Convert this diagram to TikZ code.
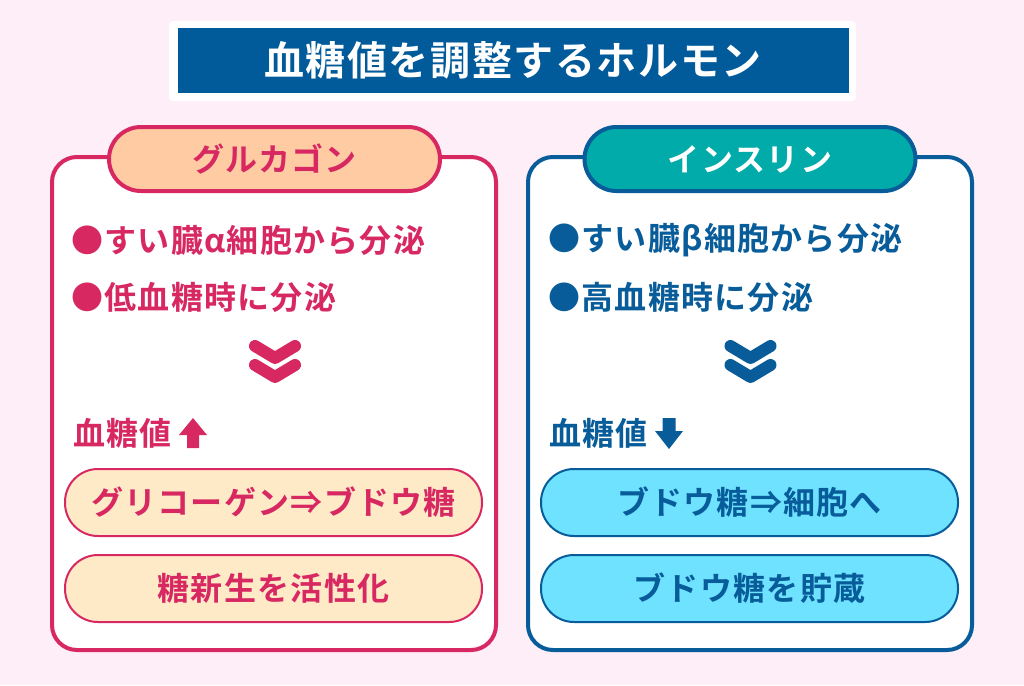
\documentclass[tikz,border=0pt]{standalone}
\usepackage{fontspec}
\setmainfont{Noto Sans CJK JP}[BoldFont={Noto Sans CJK JP Bold}, LetterSpace=4]
\definecolor{bgpink}{HTML}{FDEEF8}
\definecolor{titleblue}{HTML}{015A99}
\definecolor{crim}{HTML}{D72862}
\definecolor{peach}{HTML}{FFCBA3}
\definecolor{cream}{HTML}{FFEAC8}
\definecolor{dblue}{HTML}{075C99}
\definecolor{teal}{HTML}{00ABAA}
\definecolor{cyanl}{HTML}{6FE2FF}
\tikzset{
  panel/.style={draw=#1, line width=4pt, fill=white, rounded corners=25pt,
    minimum width=444pt, minimum height=493pt, inner sep=0pt},
  tabbox/.style={line width=4pt, rounded corners=32pt,
    minimum width=331pt, minimum height=64pt, inner sep=0pt,
    font=\bfseries\fontsize{32}{32}\selectfont},
  pill/.style={line width=2pt, rounded corners=33pt,
    minimum width=417pt, minimum height=67pt, inner sep=0pt,
    font=\bfseries\fontsize{32}{32}\selectfont},
  bodytext/.style={anchor=west, inner sep=0pt,
    font=\bfseries\fontsize{32}{32}\selectfont},
  chev/.style={line width=12pt, line cap=round, line join=round},
}
\begin{document}
\begin{tikzpicture}[x=1pt,y=-1pt]
\useasboundingbox (0,0) rectangle (1024,685);
\fill[bgpink] (0,0) rectangle (1024,685);

% title
\node[fill=white, rounded corners=4pt, minimum width=687pt, minimum height=80pt, inner sep=0pt] (titlebg) at (512.5,61) {};
\node[fill=titleblue, minimum width=671pt, minimum height=65pt, inner sep=0pt, text=white,
  font=\bfseries\fontsize{40}{40}\selectfont] (title) at (513,60.5) {血糖値を調整するホルモン};

% ===== left panel =====
\node[panel=crim] (gbox) at (274,403.5) {};
\node[tabbox, draw=crim, fill=peach, text=crim] (gtab) at (274.5,159) {グルカゴン};
\node[bodytext, text=crim] (g1) at (71,240) {●すい臓α細胞から分泌};
\node[bodytext, text=crim] (g2) at (71,297) {●低血糖時に分泌};
\coordinate (gc) at (275,346);
\draw[chev, crim] ([xshift=-20pt]gc) -- ([yshift=-12pt]gc) -- ([xshift=20pt]gc);
\draw[chev, crim] ([xshift=-20pt,yshift=-19pt]gc) -- ([yshift=-31pt]gc) -- ([xshift=20pt,yshift=-19pt]gc);
\node[bodytext, text=crim] (g3) at (73,433) {血糖値};
\fill[crim] (193,418) -- (207,435) -- (199,435) -- (199,448) -- (187,448) -- (187,435) -- (179,435) -- cycle;
\node[pill, draw=crim, fill=cream, text=crim] (gp1) at (273.5,502.5) {グリコーゲン⇒ブドウ糖};
\node[pill, draw=crim, fill=cream, text=crim] (gp2) at (273.5,588.5) {糖新生を活性化};

% ===== right panel =====
\node[panel=dblue] (ibox) at (750,403.5) {};
\node[tabbox, draw=dblue, fill=teal, text=white] (itab) at (750,159) {インスリン};
\node[bodytext, text=dblue] (i1) at (548,240) {●すい臓β細胞から分泌};
\node[bodytext, text=dblue] (i2) at (548,297) {●高血糖時に分泌};
\coordinate (ic) at (750.5,346);
\draw[chev, dblue] ([xshift=-20pt]ic) -- ([yshift=-12pt]ic) -- ([xshift=20pt]ic);
\draw[chev, dblue] ([xshift=-20pt,yshift=-19pt]ic) -- ([yshift=-31pt]ic) -- ([xshift=20pt,yshift=-19pt]ic);
\node[bodytext, text=dblue] (i3) at (549,433) {血糖値};
\fill[dblue] (669,449) -- (683,431) -- (675.5,431) -- (675.5,418) -- (662.5,418) -- (662.5,431) -- (655,431) -- cycle;
\node[pill, draw=dblue, fill=cyanl, text=dblue] (ip1) at (749.5,502.5) {ブドウ糖⇒細胞へ};
\node[pill, draw=dblue, fill=cyanl, text=dblue] (ip2) at (749.5,588.5) {ブドウ糖を貯蔵};
\end{tikzpicture}
\end{document}
